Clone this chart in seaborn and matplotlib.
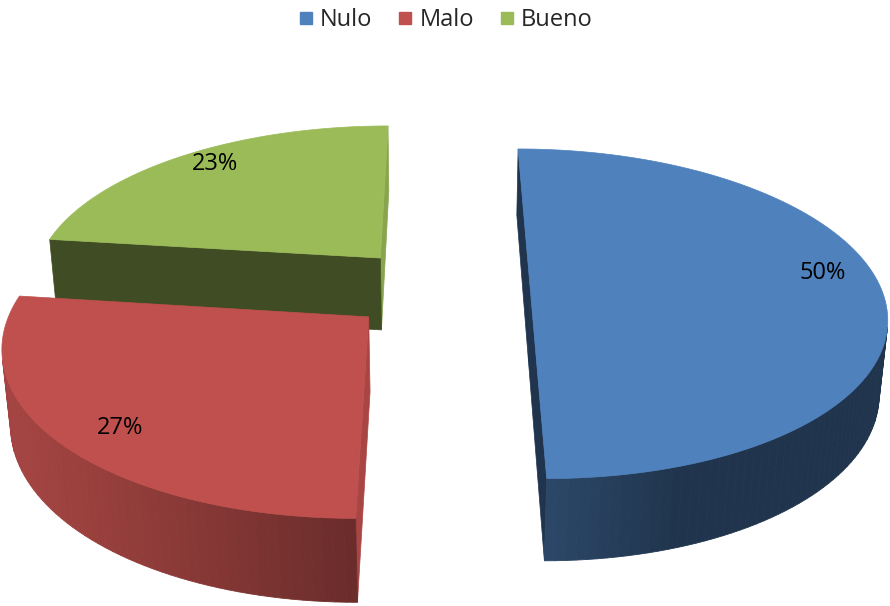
import numpy as np
import matplotlib
matplotlib.use("Agg")
import matplotlib.pyplot as plt
import seaborn as sns
from matplotlib.patches import Polygon
from matplotlib.lines import Line2D

# ---- data ----
labels = ["Nulo", "Malo", "Bueno"]
values = [50, 27, 23]
colors = ["#4F81BD", "#C0504D", "#9BBB59"]

sns.set_theme(style="white")
plt.rcParams['font.family'] = ['Open Sans', 'DejaVu Sans']

fig = plt.figure(figsize=(8.9, 6.06), dpi=100)
ax = fig.add_axes([0, 0, 1, 1])
ax.set_xlim(0, 890)
ax.set_ylim(606, 0)
ax.axis('off')

# ---- 3D projection parameters ----
PHI = np.radians(27.3)
DIST = 5.8
FOC = 2035
CX, CY = 439, 288.5
EXPLODE = 0.26
THICK = 0.24
# label placement per slice: (radius, angle offset in degrees)
LABEL_POS = [(0.855, 6.5), (0.85, 3.0), (0.875, -2.4)]
sp, cp = np.sin(PHI), np.cos(PHI)
cam = np.array([0.0, -DIST * cp, DIST * sp])


def proj(x, y, z):
    x = np.asarray(x, float); y = np.asarray(y, float); z = np.asarray(z, float)
    up = y * sp + z * cp
    depth = DIST + y * cp - z * sp
    return CX + FOC * x / depth, CY - FOC * up / depth


def shade(col, f):
    rgb = np.array(matplotlib.colors.to_rgb(col))
    return tuple(np.clip(rgb * f, 0, 1))


def wall_factor(a):
    n = np.array([np.cos(a), np.sin(a)])
    L = np.array([-0.9, -0.3])
    return 0.41 + 0.47 * max(0.0, float(n @ L))


def radial_factor(n):
    return 0.41 + 0.47 * max(0.0, n[0])


def visible(p, n):
    return float((cam - p) @ n) > 0


fracs = np.array(values, float) / np.sum(values)
cum = np.concatenate([[0], np.cumsum(fracs)])
slices = []
for i in range(len(values)):
    hi = np.radians(90 - cum[i] * 360)
    lo = np.radians(90 - cum[i + 1] * 360)
    mid = 0.5 * (lo + hi)
    slices.append((i, lo, hi, mid))

# draw far slices first
slices.sort(key=lambda s: -np.sin(s[3]))

for i, lo, hi, mid in slices:
    col = colors[i]
    ox, oy = EXPLODE * np.cos(mid), EXPLODE * np.sin(mid)
    nseg = max(8, int(np.degrees(hi - lo) / 1.5))
    ts = np.linspace(lo, hi, nseg + 1)
    # radial faces
    for a, n in ((lo, np.array([np.sin(lo), -np.cos(lo), 0.0])),
                 (hi, np.array([-np.sin(hi), np.cos(hi), 0.0]))):
        p = np.array([ox + 0.5 * np.cos(a), oy + 0.5 * np.sin(a), -THICK / 2])
        if visible(p, n):
            xs = [ox, ox + np.cos(a), ox + np.cos(a), ox]
            ys = [oy, oy + np.sin(a), oy + np.sin(a), oy]
            zs = [0, 0, -THICK, -THICK]
            X, Y = proj(xs, ys, zs)
            c = shade(col, radial_factor(n))
            ax.add_patch(Polygon(np.c_[X, Y], closed=True, facecolor=c,
                                 edgecolor=c, linewidth=0.5, zorder=2))
    # outer wall
    for t1, t2 in zip(ts[:-1], ts[1:]):
        tm = 0.5 * (t1 + t2)
        n = np.array([np.cos(tm), np.sin(tm), 0.0])
        p = np.array([ox + np.cos(tm), oy + np.sin(tm), -THICK / 2])
        if visible(p, n):
            xs = [ox + np.cos(t1), ox + np.cos(t2), ox + np.cos(t2), ox + np.cos(t1)]
            ys = [oy + np.sin(t1), oy + np.sin(t2), oy + np.sin(t2), oy + np.sin(t1)]
            zs = [0, 0, -THICK, -THICK]
            X, Y = proj(xs, ys, zs)
            c = shade(col, wall_factor(tm))
            ax.add_patch(Polygon(np.c_[X, Y], closed=True, facecolor=c,
                                 edgecolor=c, linewidth=0.6, zorder=2))
    # top face
    xs = np.concatenate([[ox], ox + np.cos(ts)])
    ys = np.concatenate([[oy], oy + np.sin(ts)])
    X, Y = proj(xs, ys, np.zeros_like(xs))
    ax.add_patch(Polygon(np.c_[X, Y], closed=True, facecolor=col,
                         edgecolor=col, linewidth=0.5, zorder=2))
    # label
    lr, lda = LABEL_POS[i]
    la = mid + np.radians(lda)
    lx, ly = proj(ox + lr * np.cos(la), oy + lr * np.sin(la), 0.0)
    ax.text(float(lx), float(ly), f"{values[i] / np.sum(values) * 100:.0f}%",
            ha='center', va='center', fontsize=17, color='black', zorder=5)

handles = [Line2D([0], [0], marker='s', linestyle='none', markersize=8.5,
                  markerfacecolor=c, markeredgecolor=c) for c in colors]
fig.legend(handles, labels, loc='upper center', bbox_to_anchor=(0.5, 1.022),
           ncol=3, frameon=False, fontsize=17, handlelength=0.7,
           handletextpad=0.25, columnspacing=1.05)

fig.savefig("out.png", dpi=100)
